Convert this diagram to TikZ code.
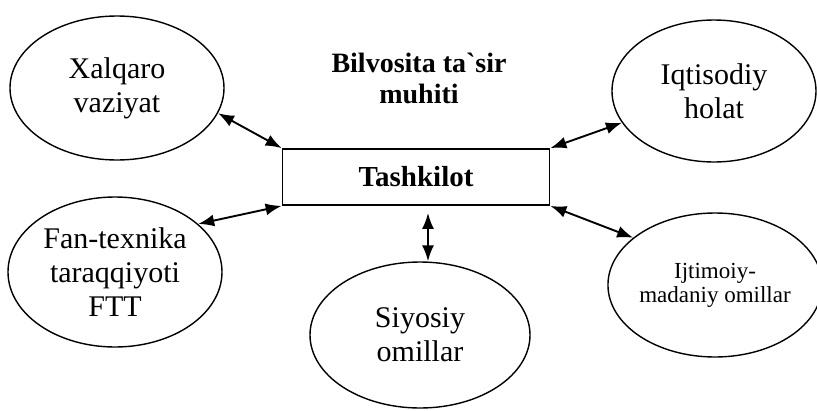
\documentclass[tikz,border=0pt]{standalone}
\usepackage{fontspec}
\setmainfont{Liberation Serif}
\usetikzlibrary{shapes.geometric,arrows.meta}

\begin{document}
\begin{tikzpicture}[x=1pt,y=-1pt,
    factor/.style={draw, ellipse, line width=1.4pt, inner sep=0pt, align=center,
      font=\fontsize{30}{34}\selectfont},
    biarrow/.style={line width=1.9pt, {Latex[length=16pt,width=12pt]}-{Latex[length=16pt,width=12pt]}}]
  \useasboundingbox (0,0) rectangle (817,410);
  \node[factor, minimum width=214, minimum height=144] (xal) at (117, 88) {Xalqaro\\vaziyat};
  \node[factor, minimum width=204, minimum height=142] (iqt) at (714, 91) {Iqtisodiy\\holat};
  \node[factor, minimum width=214, minimum height=150] (fan) at (115,272) {Fan-texnika\\taraqqiyoti\\FTT};
  \node[factor, minimum width=220, minimum height=146] (siy) at (420,335) {Siyosiy\\omillar};
  \node[factor, minimum width=205, minimum height=144,
        font=\fontsize{23}{24}\selectfont] (ijt) at (715,285) {Ijtimoiy-\\madaniy omillar};
  \node[draw, line width=1.8pt, minimum width=267, minimum height=56,
        font=\fontsize{29}{34}\selectfont\bfseries] (org) at (416,177) {Tashkilot};
  \node[align=center, font=\fontsize{28}{31}\selectfont\bfseries] (title) at (419,78)
    {Bilvosita ta\textasciigrave sir\\muhiti};
  % connectors
  \draw[biarrow] (org.north west) -- (xal.-14);
  \draw[biarrow] (org.north east) -- (iqt.199);
  \draw[biarrow] (org.south west) -- (fan.30);
  \draw[biarrow] (org.south east) -- (ijt.150);
  \draw[biarrow, shorten <=7pt] ([xshift=12]org.south) -- ([xshift=12]org.south |- siy.north);
\end{tikzpicture}
\end{document}
